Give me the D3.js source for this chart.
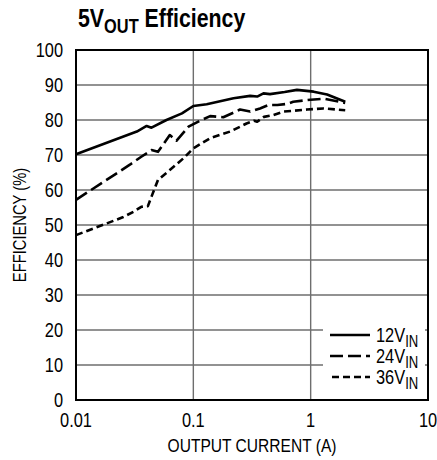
<!DOCTYPE html>
<html>
<head>
<meta charset="utf-8">
<script src="https://d3js.org/d3.v7.min.js"></script>
<style>
  body { margin: 0; background: #fff; }
  text { font-family: "Liberation Sans", Arial, sans-serif; fill: #000; }
</style>
</head>
<body>
<div id="chart"></div>
<script>
// size of plot
const width = 437;
const height = 460;
const margin = {top: 50, right: 9, bottom: 60, left: 76};
const squeeze = 0.82; // narrow the type like the condensed face of the original

// data: output current (A) and efficiency (%) per input voltage
const current12 = [0.01, 0.033, 0.040, 0.044, 0.059, 0.080, 0.100, 0.130, 0.220, 0.305, 0.350, 0.396, 0.450, 0.600, 0.764, 1.06, 1.38, 1.97];
const eff12     = [70.2, 76.7, 78.3, 77.8, 80.0, 81.9, 84.0, 84.5, 86.2, 86.9, 86.7, 87.6, 87.4, 88.0, 88.6, 88.1, 87.3, 85.2];

const current24 = [0.01, 0.029, 0.036, 0.044, 0.050, 0.063, 0.072, 0.091, 0.114, 0.139, 0.180, 0.220, 0.250, 0.305, 0.370, 0.440, 0.520, 0.630, 0.710, 1.00, 1.30, 1.97];
const eff24     = [57.2, 67.3, 69.5, 71.4, 70.9, 75.7, 74.1, 78.1, 79.8, 81.1, 80.8, 82.1, 83.0, 82.4, 83.3, 84.3, 84.3, 84.6, 85.2, 85.8, 86.1, 84.9];

const current36 = [0.01, 0.025, 0.031, 0.036, 0.041, 0.044, 0.050, 0.063, 0.082, 0.100, 0.139, 0.206, 0.284, 0.330, 0.350, 0.400, 0.480, 0.590, 0.930, 1.28, 1.97];
const eff36     = [47.1, 52.2, 53.8, 55.2, 55.4, 58.1, 62.9, 65.7, 69.0, 71.9, 74.8, 76.7, 79.0, 79.8, 79.5, 80.9, 81.4, 82.4, 83.0, 83.3, 82.8];

const xTicks = [0.01, 0.1, 1, 10];
const xTickLabels = ["0.01", "0.1", "1", "10"];
const yTicks = [0, 10, 20, 30, 40, 50, 60, 70, 80, 90, 100];

const series = [
  {name: "12", x: current12, y: eff12, dash: null},
  {name: "24", x: current24, y: eff24, dash: "13,5"},
  {name: "36", x: current36, y: eff36, dash: "7,4"}
];

const svg = d3.select("#chart").append("svg")
  .attr("width", width)
  .attr("height", height);

const x = d3.scaleLog().domain([0.01, 10]).range([margin.left, width - margin.right]);
const y = d3.scaleLinear().domain([0, 100]).range([height - margin.bottom, margin.top]);

// text placed at (tx, ty) and squeezed horizontally
function label(parent, tx, ty, size, anchor, rot) {
  const g = parent.append("g")
    .attr("transform", "translate(" + tx + "," + ty + ")" + (rot ? " rotate(" + rot + ")" : "") + " scale(" + squeeze + ",1)");
  return g.append("text").attr("font-size", size).attr("text-anchor", anchor || "start");
}

// grid lines
const grid = svg.append("g").attr("stroke", "#6e6e6e").attr("stroke-width", 1.4);
grid.selectAll("line.h").data(yTicks.slice(1, -1)).enter().append("line")
  .attr("x1", x(0.01)).attr("x2", x(10))
  .attr("y1", d => y(d)).attr("y2", d => y(d));
grid.selectAll("line.v").data(xTicks.slice(1, -1)).enter().append("line")
  .attr("x1", d => x(d)).attr("x2", d => x(d))
  .attr("y1", y(0)).attr("y2", y(100));

// curves
const line = d3.line().x(d => x(d[0])).y(d => y(d[1]));
svg.append("g").selectAll("path").data(series).enter().append("path")
  .attr("d", s => line(s.x.map((v, i) => [v, s.y[i]])))
  .attr("fill", "none")
  .attr("stroke", "#000")
  .attr("stroke-width", 2.6)
  .attr("stroke-linejoin", "round")
  .attr("stroke-dasharray", s => s.dash);

// legend box (hides the grid behind it)
const leg = svg.append("g");
leg.append("rect")
  .attr("x", 323).attr("y", 322).attr("width", 102).attr("height", 76)
  .attr("fill", "#fff");
series.forEach((s, i) => {
  const ly = 335 + i * 21;
  leg.append("line")
    .attr("x1", i === 2 ? 332 : 330).attr("x2", 370)
    .attr("y1", ly).attr("y2", ly)
    .attr("stroke", "#000").attr("stroke-width", 2.6)
    .attr("stroke-dasharray", s.dash);
  const t = label(leg, 376, ly + 7, 20);
  t.append("tspan").text(s.name + "V");
  t.append("tspan").attr("dy", 5).attr("font-size", 16).text("IN");
});

// frame
svg.append("rect")
  .attr("x", x(0.01)).attr("y", y(100))
  .attr("width", x(10) - x(0.01)).attr("height", y(0) - y(100))
  .attr("fill", "none").attr("stroke", "#000").attr("stroke-width", 2);

// tick labels
yTicks.forEach(d => label(svg, 63, y(d) + 7, 20, "end").text(d));
xTicks.forEach((d, i) => label(svg, x(d), 427, 20, "middle").text(xTickLabels[i]));

// axis titles
label(svg, (x(0.01) + x(10)) / 2, 452, 19, "middle").text("OUTPUT CURRENT (A)");
label(svg, 26, y(50), 18, "middle", -90).text("EFFICIENCY (%)");

// title
const title = label(svg, 78, 27, 26).attr("font-weight", "bold");
title.append("tspan").text("5V");
title.append("tspan").attr("dy", 6).attr("font-size", 20).text("OUT");
title.append("tspan").attr("dy", -6).text(" Efficiency");
</script>
</body>
</html>
